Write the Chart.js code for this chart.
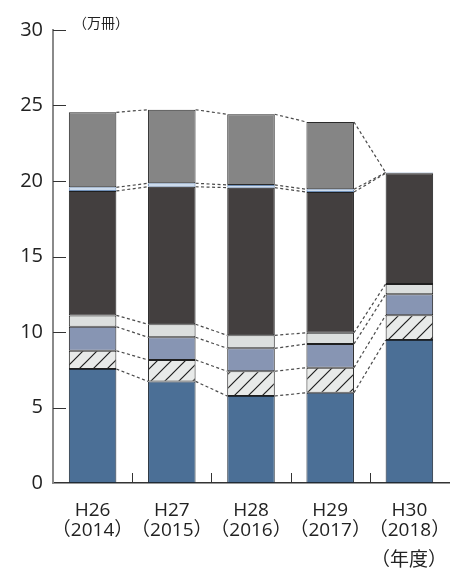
<!DOCTYPE html>
<html>
<head>
<meta charset="utf-8">
<script src="https://cdn.jsdelivr.net/npm/chart.js@4/dist/chart.umd.min.js"></script>
<style>
  html, body { margin: 0; padding: 0; background: #fff; }
  #wrap { width: 460px; height: 570px; position: relative; }
</style>
</head>
<body>
<div id="wrap"><canvas id="c" width="460" height="570"></canvas></div>
<script>
// Fiscal years (Japanese era + western year)
const eraYears = ['H26', 'H27', 'H28', 'H29', 'H30'];
const westernYears = ['（2014）', '（2015）', '（2016）', '（2017）', '（2018）'];

// Stacked segments, bottom to top (万冊)
const blueVals   = [7.55, 6.73, 5.76, 5.98, 9.47];
const hatchVals  = [1.21, 1.42, 1.64, 1.66, 1.64];
const slateVals  = [1.59, 1.50, 1.52, 1.57, 1.39];
const paleVals   = [0.75, 0.86, 0.86, 0.74, 0.68];
const darkVals   = [8.24, 9.11, 9.78, 9.32, 7.33];
const skyVals    = [0.24, 0.23, 0.18, 0.18, 0.05];
const greyVals   = [4.97, 4.87, 4.68, 4.46, null];

// Y axis ticks
const yTicks = [0, 5, 10, 15, 20, 25, 30];

const FONT = '"Open Sans", "Noto Sans CJK JP", sans-serif';
const CJK = '"Noto Sans CJK JP", sans-serif';

// Diagonal hatch fill
function hatchPattern() {
  const s = 14;
  const cv = document.createElement('canvas');
  cv.width = s; cv.height = s;
  const g = cv.getContext('2d');
  g.fillStyle = '#e8eae9';
  g.fillRect(0, 0, s, s);
  g.strokeStyle = '#1e1e1e';
  g.lineWidth = 1.2;
  g.beginPath();
  g.moveTo(-1, s + 1); g.lineTo(s + 1, -1);
  g.moveTo(-1, 1); g.lineTo(1, -1);
  g.moveTo(s - 1, s + 1); g.lineTo(s + 1, s - 1);
  g.stroke();
  const ctx = document.getElementById('c').getContext('2d');
  return ctx.createPattern(cv, 'repeat');
}

const series = [
  { vals: blueVals,  bg: '#4b6f96', bc: '#1f2a36' },
  { vals: hatchVals, bg: hatchPattern(), bc: '#1f1f1f' },
  { vals: slateVals, bg: '#8795b3', bc: '#1f1f1f' },
  { vals: paleVals,  bg: '#dcdfde', bc: '#1f1f1f' },
  { vals: darkVals,  bg: '#433f3f', bc: '#1f1f1f' },
  { vals: skyVals,   bg: '#c9d9ec', bc: '#7090b8' },
  { vals: greyVals,  bg: '#858585', bc: '#2a2a2a' }
];

// Inward tick marks, dashed connectors between adjacent bars, unit captions
const decorations = {
  id: 'decorations',
  beforeDatasetsDraw(chart) {
    const ctx = chart.ctx;
    const xs = chart.scales.x, ys = chart.scales.y;
    const left = chart.chartArea.left, bottom = chart.chartArea.bottom;
    ctx.save();
    ctx.strokeStyle = '#333';
    ctx.lineWidth = 1;
    yTicks.forEach(v => {
      if (v === 0) return;
      const y = Math.round(ys.getPixelForValue(v)) + 0.5;
      ctx.beginPath();
      ctx.moveTo(left, y);
      ctx.lineTo(left + 13, y);
      ctx.stroke();
    });
    for (let i = 0; i < eraYears.length - 1; i++) {
      const x = Math.round((xs.getPixelForValue(i) + xs.getPixelForValue(i + 1)) / 2) + 0.5;
      ctx.beginPath();
      ctx.moveTo(x, bottom);
      ctx.lineTo(x, bottom - 10);
      ctx.stroke();
    }
    ctx.restore();
  },
  afterDatasetsDraw(chart) {
    const ctx = chart.ctx;
    const ys = chart.scales.y;
    const meta = chart.getDatasetMeta(0);
    const n = eraYears.length;
    // cumulative tops of each segment
    const tops = [];
    for (let i = 0; i < n; i++) {
      let acc = 0;
      tops.push(series.map(s => (acc += (s.vals[i] || 0))));
    }
    ctx.save();
    ctx.strokeStyle = '#4a4a4a';
    ctx.lineWidth = 1.2;
    ctx.setLineDash([3, 2.5]);
    for (let i = 0; i < n - 1; i++) {
      const a = meta.data[i], b = meta.data[i + 1];
      const x1 = a.x + a.width / 2, x2 = b.x - b.width / 2;
      for (let k = 0; k < series.length; k++) {
        ctx.beginPath();
        ctx.moveTo(x1, ys.getPixelForValue(tops[i][k]));
        ctx.lineTo(x2, ys.getPixelForValue(tops[i + 1][k]));
        ctx.stroke();
      }
    }
    ctx.restore();

    ctx.save();
    ctx.fillStyle = '#222';
    ctx.font = '14px ' + CJK;
    ctx.textBaseline = 'middle';
    ctx.textAlign = 'left';
    ctx.fillText('（万冊）', 73, 23);
    ctx.font = '19px ' + CJK;
    ctx.textAlign = 'right';
    ctx.fillText('（年度）', 447, 559);
    ctx.restore();
  }
};

new Chart(document.getElementById('c'), {
  type: 'bar',
  data: {
    labels: eraYears.map((e, i) => [e, westernYears[i]]),
    datasets: series.map(s => ({
      data: s.vals,
      backgroundColor: s.bg,
      borderColor: s.bc,
      borderWidth: 1,
      borderSkipped: false,
      categoryPercentage: 1,
      barPercentage: 0.6
    }))
  },
  options: {
    responsive: false,
    animation: false,
    devicePixelRatio: 1,
    layout: { padding: { top: 30, right: 11, left: 0, bottom: 0 } },
    plugins: { legend: { display: false }, tooltip: { enabled: false } },
    scales: {
      x: {
        stacked: true,
        grid: { display: false, drawTicks: false },
        border: { display: true, color: '#333', width: 1.5 },
        ticks: {
          color: '#222',
          padding: 18,
          autoSkip: false,
          maxRotation: 0,
          minRotation: 0,
          font: { family: FONT, size: 19, lineHeight: 1.05 }
        },
        afterFit(scale) {
          scale.height = 87;
          scale.paddingLeft = 0;
          scale.paddingRight = 0;
        }
      },
      y: {
        stacked: true,
        min: 0,
        max: 30,
        grid: { display: false, drawTicks: false },
        border: { display: true, color: '#8a8a8a', width: 2 },
        afterBuildTicks(scale) { scale.ticks = yTicks.map(v => ({ value: v })); },
        ticks: {
          color: '#222',
          padding: 10,
          font: { family: FONT, size: 20 }
        },
        afterFit(scale) {
          scale.width = 53;
          scale.paddingTop = 0;
          scale.paddingBottom = 0;
        }
      }
    }
  },
  plugins: [decorations]
});
</script>
</body>
</html>
